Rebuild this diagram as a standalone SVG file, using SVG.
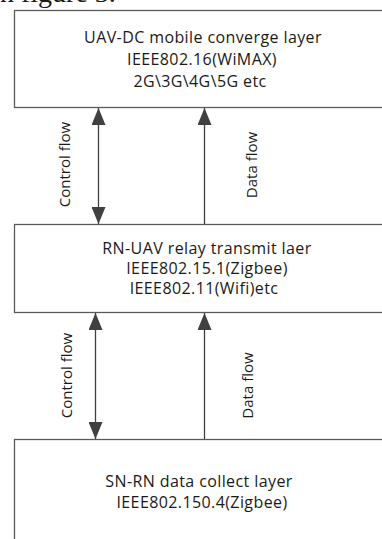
<svg xmlns="http://www.w3.org/2000/svg" width="382" height="539" viewBox="0 0 382 539">
<style>
  .box { fill: #ffffff; stroke: #5a5a5a; stroke-width: 1.3; }
  .t { font-family: "Open Sans", "Liberation Sans", sans-serif; font-size: 16px; letter-spacing: 0.4px; fill: #1a1a1a; text-anchor: middle; }
  .lbl { font-family: "Open Sans", "Liberation Sans", sans-serif; font-size: 15px; fill: #1a1a1a; text-anchor: middle; }
  .ln { stroke: #404040; stroke-width: 1.3; fill: none; }
  .frag { font-family: "Liberation Serif", serif; font-size: 28px; fill: #1a1a1a; }
</style>
<defs>
  <marker id="head" viewBox="0 0 17 14" refX="17" refY="7" markerWidth="17" markerHeight="14" markerUnits="userSpaceOnUse" orient="auto-start-reverse">
    <path d="M0,0 L17,7 L0,14 z" fill="#404040"/>
  </marker>
</defs>
<rect width="382" height="539" fill="#ffffff"/>
<text class="frag" x="0" y="2">n figure 3.</text>

<g id="node-uav-dc">
  <rect class="box" x="14.5" y="10.5" width="400" height="97"/>
  <text class="t" x="203" y="43">UAV-DC mobile converge layer</text>
  <text class="t" x="202" y="65">IEEE802.16(WiMAX)</text>
  <text class="t" x="200" y="86.5">2G\3G\4G\5G etc</text>
</g>

<g id="node-rn-uav">
  <rect class="box" x="14.5" y="224.5" width="400" height="88"/>
  <text class="t" x="207" y="254">RN-UAV relay transmit laer</text>
  <text class="t" x="207" y="274">IEEE802.15.1(Zigbee)</text>
  <text class="t" x="204" y="294">IEEE802.11(Wifi)etc</text>
</g>

<g id="node-sn-rn">
  <rect class="box" x="14.5" y="439.5" width="400" height="130"/>
  <text class="t" x="199" y="487">SN-RN data collect layer</text>
  <text class="t" x="202" y="507.5">IEEE802.150.4(Zigbee)</text>
</g>

<g id="connectors">
  <line class="ln" x1="98.5" y1="108" x2="98.5" y2="224" marker-start="url(#head)" marker-end="url(#head)"/>
  <line class="ln" x1="204.5" y1="224" x2="204.5" y2="108" marker-end="url(#head)"/>
  <line class="ln" x1="95.5" y1="313" x2="95.5" y2="439" marker-start="url(#head)" marker-end="url(#head)"/>
  <line class="ln" x1="204.5" y1="439" x2="204.5" y2="313" marker-end="url(#head)"/>
  <text class="lbl" transform="translate(69.5,164.5) rotate(-90)">Control flow</text>
  <text class="lbl" transform="translate(256.5,165) rotate(-90)">Data flow</text>
  <text class="lbl" transform="translate(72,375.5) rotate(-90)">Control flow</text>
  <text class="lbl" transform="translate(253,385.5) rotate(-90)">Data flow</text>
</g>
</svg>
